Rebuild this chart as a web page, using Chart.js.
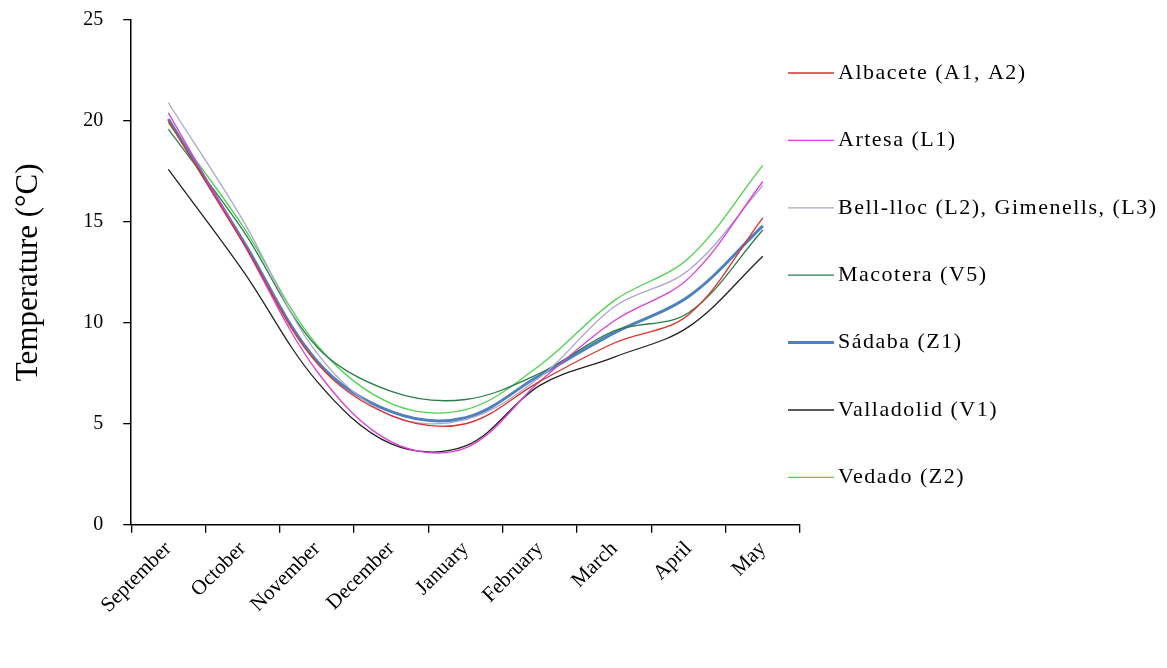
<!DOCTYPE html>
<html>
<head>
<meta charset="utf-8">
<script src="https://cdn.jsdelivr.net/npm/chart.js@4.4.1/dist/chart.umd.min.js"></script>
<style>
  html, body { margin: 0; padding: 0; background: #fff; }
  #wrap { width: 1167px; height: 668px; position: relative; }
</style>
</head>
<body>
<div id="wrap"><canvas id="chart"></canvas></div>
<script>
const months = ["September", "October", "November", "December", "January", "February", "March", "April", "May"];

const albacete   = [20.0, 14.0, 8.0, 5.4, 5.0, 7.1, 9.0, 10.4, 15.2];
const artesa     = [20.4, 14.0, 7.6, 4.1, 3.8, 7.1, 10.1, 12.2, 17.0];
const bellLloc   = [20.9, 15.1, 8.5, 5.4, 5.2, 7.3, 10.8, 12.6, 16.8];
const macotera   = [19.6, 14.6, 8.8, 6.6, 6.2, 7.5, 9.6, 10.5, 14.6];
const sadaba     = [20.1, 14.1, 8.1, 5.6, 5.3, 7.4, 9.5, 11.3, 14.8];
const valladolid = [17.6, 12.6, 7.1, 4.0, 3.9, 6.9, 8.3, 9.8, 13.3];
const vedado     = [19.9, 14.8, 8.9, 6.0, 5.7, 7.9, 11.1, 13.2, 17.8];

const yTicks = [0, 5, 10, 15, 20, 25];

const series = [
  { label: "Albacete (A1, A2)", data: albacete, color: "#d9312b", width: 1.3 },
  { label: "Artesa (L1)", data: artesa, color: "#dc3fd8", width: 1.3 },
  { label: "Bell-lloc (L2), Gimenells, (L3)", data: bellLloc, color: "#aaa6cc", width: 1.3 },
  { label: "Macotera (V5)", data: macotera, color: "#2b7d4b", width: 1.3 },
  { label: "Sádaba (Z1)", data: sadaba, color: "#4f81bd", width: 3 },
  { label: "Valladolid (V1)", data: valladolid, color: "#222222", width: 1.3 },
  { label: "Vedado (Z2)", data: vedado, color: "#4fd24f", width: 1.3 }
];

const serif = "'Liberation Serif', 'Times New Roman', serif";

// legend drawn on the canvas, to the right of the plot
const sideLegend = {
  id: "sideLegend",
  afterDraw(chart) {
    const ctx = chart.ctx;
    const area = chart.chartArea;
    const x0 = area.right - 12;
    const rowGap = 67.4;
    const firstY = area.top + 53;

    ctx.save();
    ctx.font = "22px " + serif;
    ctx.letterSpacing = "1.5px";
    ctx.textBaseline = "middle";
    ctx.fillStyle = "#000";

    chart.data.datasets.forEach((ds, i) => {
      const y = firstY + i * rowGap;
      ctx.strokeStyle = ds.borderColor;
      ctx.lineWidth = ds.borderWidth > 2 ? 3 : 1.3;
      ctx.beginPath();
      ctx.moveTo(x0, y);
      ctx.lineTo(x0 + 46, y);
      ctx.stroke();
      ctx.fillText(ds.label, x0 + 50, y);
    });

    ctx.restore();
  }
};

new Chart(document.getElementById("chart"), {
  type: "line",
  data: {
    labels: months,
    datasets: series.map(s => ({
      label: s.label,
      data: s.data,
      borderColor: s.color,
      backgroundColor: s.color,
      borderWidth: s.width,
      pointRadius: 0,
      tension: 0.35,
      fill: false
    }))
  },
  options: {
    responsive: true,
    maintainAspectRatio: false,
    animation: false,
    layout: {
      padding: { left: 10, right: 367, top: 20, bottom: 46 }
    },
    plugins: {
      legend: { display: false },
      tooltip: { enabled: false }
    },
    scales: {
      x: {
        offset: true,
        grid: {
          offset: true,
          drawOnChartArea: false,
          drawTicks: true,
          tickLength: 8,
          color: "#000",
          lineWidth: 1.3
        },
        border: { display: true, color: "#000", width: 1.5 },
        ticks: {
          color: "#000",
          font: { family: serif, size: 21 },
          maxRotation: 45,
          minRotation: 45,
          padding: 4
        }
      },
      y: {
        min: 0,
        max: 25,
        afterBuildTicks: axis => {
          axis.ticks = yTicks.map(v => ({ value: v }));
        },
        afterFit: axis => {
          axis.paddingTop = 10;
        },
        grid: {
          drawOnChartArea: false,
          drawTicks: true,
          tickLength: 8,
          color: "#000",
          lineWidth: 1.3
        },
        border: { display: true, color: "#000", width: 1.5 },
        ticks: {
          color: "#000",
          font: { family: serif, size: 20 },
          padding: 20
        },
        title: {
          display: true,
          text: "Temperature (°C)",
          color: "#000",
          font: { family: serif, size: 31 },
          padding: { top: 0, bottom: 16 }
        }
      }
    }
  },
  plugins: [sideLegend]
});
</script>
</body>
</html>
